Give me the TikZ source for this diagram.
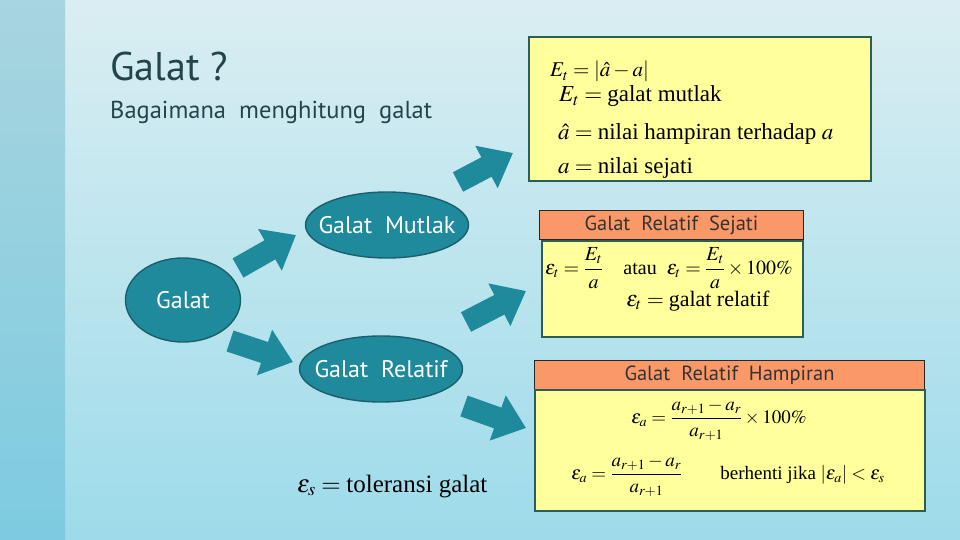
\documentclass[tikz,border=0pt]{standalone}
\usepackage{amsmath}
\usepackage{mathptmx}
\usepackage{fontspec}
\setmainfont{Liberation Serif}
\newfontfamily\slidefont{PT Sans}
\usepackage{tikz}
\usetikzlibrary{arrows.meta,shapes.geometric}
\definecolor{bgtop}{HTML}{DAEEF2}
\definecolor{bgbot}{HTML}{9DDBEA}
\definecolor{striptop}{HTML}{A8D5DF}
\definecolor{stripbot}{HTML}{7DCBE0}
\definecolor{tealc}{HTML}{1E8A9B}
\definecolor{ovalb}{HTML}{1A5F6A}
\definecolor{titlec}{HTML}{24444C}
\definecolor{yelf}{HTML}{FFFF9C}
\definecolor{orgf}{HTML}{FA9868}
\definecolor{boxb}{HTML}{2C5E56}
\definecolor{hdtxt}{HTML}{333333}
\tikzset{
  oval/.style={ellipse,draw=ovalb,line width=1.4pt,fill=tealc,text=white,font=\slidefont\fontsize{24}{27}\selectfont,inner ysep=0pt,inner xsep=-16pt},
  blk/.style={tealc,line width=22pt,-{Triangle[length=30pt,width=46pt]}},
  ybox/.style={draw=boxb,line width=1.8pt,fill=yelf,inner sep=0pt,anchor=north west},
  hbox/.style={draw=black!85,line width=1pt,fill=orgf,inner sep=0pt,anchor=north west,font=\slidefont\fontsize{20.5}{23}\selectfont,text=hdtxt},
  eq/.style={font=\fontsize{23}{27}\selectfont,inner sep=0pt}
}

\begin{document}
\begin{tikzpicture}[x=1pt,y=-1pt]
\useasboundingbox (0,0) rectangle (960,540);
\shade[top color=bgtop,bottom color=bgbot] (0,0) rectangle (960,540);
\shade[top color=striptop,bottom color=stripbot] (0,0) rectangle (65,540);
\node[anchor=base west,inner sep=0pt,text=titlec,font=\slidefont\fontsize{40}{44}\selectfont] (title) at (110,81) {Galat ?};
\node[anchor=base west,inner sep=0pt,text=titlec,font=\slidefont\fontsize{24.5}{28}\selectfont] (sub) at (110,119) {Bagaimana\ \ menghitung\ \ galat};

\node[oval,minimum width=115,minimum height=84] (galat) at (183,300) {Galat};
\node[oval,minimum width=163,minimum height=66] (mutlak) at (387,225) {Galat\ \ Mutlak};
\node[oval,minimum width=163,minimum height=66] (relatif) at (381,369) {Galat\ \ Relatif};

\coordinate (a1s) at (238,268); \coordinate (a1e) at (296,235);
\coordinate (a2s) at (230,341); \coordinate (a2e) at (293,362);
\coordinate (a3s) at (458,182); \coordinate (a3e) at (513,153);
\coordinate (a4s) at (466,322); \coordinate (a4e) at (526,291);
\coordinate (a5s) at (464,406); \coordinate (a5e) at (526,428);
\draw[blk] (a1s) -- (a1e);
\draw[blk] (a2s) -- (a2e);
\draw[blk] (a3s) -- (a3e);
\draw[blk] (a4s) -- (a4e);
\draw[blk] (a5s) -- (a5e);

\node[ybox,minimum width=342,minimum height=144] (mutbox) at (528,36) {};
\node[eq,anchor=base west,font=\fontsize{21}{25}\selectfont] (m1) at (550,77) {$E_t = \left|\hat{a} - a\right|$};
\node[eq,anchor=base west] (m2) at (559,102) {$E_t = \mbox{galat mutlak}$};
\node[eq,anchor=base west] (m3) at (558,140) {$\hat{a} = \mbox{nilai hampiran terhadap } a$};
\node[eq,anchor=base west] (m4) at (558,174) {$a = \mbox{nilai sejati}$};

\node[hbox,minimum width=264,minimum height=29] (sejhd) at (539,210) {Galat\ \ Relatif\ \ Sejati};
\node[ybox,minimum width=261,minimum height=96] (sejbox) at (541,240) {};
\node[eq,font=\fontsize{20}{24}\selectfont] (s1) at (669,268) {$\varepsilon_t = \dfrac{E_t}{a}$\quad atau\ \ $\varepsilon_t = \dfrac{E_t}{a}\times 100\%$};
\node[eq,font=\fontsize{22}{26}\selectfont,anchor=base] (s2) at (698,306) {$\varepsilon_t = \mbox{galat relatif}$};

\node[hbox,minimum width=390,minimum height=29] (hamhd) at (534,360) {Galat\ \ Relatif\ \ Hampiran};
\node[ybox,minimum width=390,minimum height=121] (hambox) at (534,389) {};
\node[eq,font=\fontsize{19}{23}\selectfont] (h1) at (719,420) {$\varepsilon_a = \dfrac{a_{r+1} - a_r}{a_{r+1}}\times 100\%$};
\node[eq,font=\fontsize{19}{23}\selectfont] (h2) at (728,476) {$\varepsilon_a = \dfrac{a_{r+1} - a_r}{a_{r+1}}$\qquad berhenti jika $\left|\varepsilon_a\right| < \varepsilon_s$};

\node[eq,font=\fontsize{25}{29}\selectfont,anchor=base west] (tol) at (297,492) {$\varepsilon_s = \mbox{toleransi galat}$};
\end{tikzpicture}
\end{document}
